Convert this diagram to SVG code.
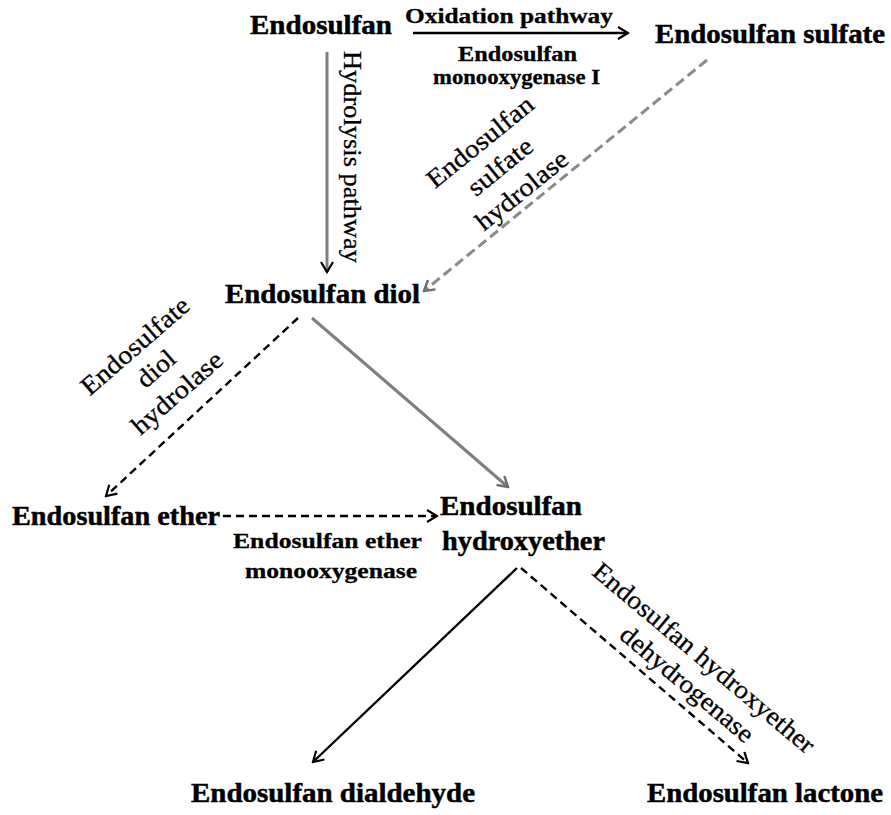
<svg xmlns="http://www.w3.org/2000/svg" width="891" height="815" viewBox="0 0 891 815">
  <style>
    .node { font-family: "Liberation Serif", "Times New Roman", serif; font-weight: bold; font-size: 28px; fill: #000; stroke: #000; stroke-width: 0.5; }
    .enz { font-family: "Liberation Serif", "Times New Roman", serif; font-weight: bold; font-size: 22px; fill: #000; stroke: #000; stroke-width: 0.3; }
    .enz-sm { font-size: 20px; }
    .rot { font-family: "Liberation Serif", "Times New Roman", serif; font-size: 26px; fill: #000; stroke: #000; stroke-width: 0.3; }
    .solid-k { fill: none; stroke: #000; stroke-width: 2.4; }
    .dash-k { fill: none; stroke: #000; stroke-width: 2.4; stroke-dasharray: 8 5; }
    .solid-g { fill: none; stroke: #7f7f7f; stroke-width: 3; }
    .dash-g { fill: none; stroke: #8a8a8a; stroke-width: 3; stroke-dasharray: 10 5; }
  </style>
  <defs>
    <marker id="ah-k" viewBox="0 0 14 14" refX="12" refY="7" markerWidth="14" markerHeight="14" markerUnits="userSpaceOnUse" orient="auto">
      <path d="M2,1 L12,7 L2,13" fill="none" stroke="#000" stroke-width="2.2"/>
    </marker>
    <marker id="ah-g" viewBox="0 0 14 14" refX="12" refY="7" markerWidth="14" markerHeight="14" markerUnits="userSpaceOnUse" orient="auto">
      <path d="M2,1 L12,7 L2,13" fill="none" stroke="#6e6e6e" stroke-width="2.4"/>
    </marker>
  </defs>
  <rect width="891" height="815" fill="#fff"/>

  <!-- pathway connectors -->
  <g id="connectors">
    <path class="solid-k" d="M413,33 L628,33" marker-end="url(#ah-k)"/>
    <path class="solid-g" d="M327,52 L327,272" marker-end="url(#ah-k)"/>
    <path class="dash-g" d="M707,60 L424,291" marker-end="url(#ah-g)"/>
    <path class="dash-k" d="M298,318 L106,496" marker-end="url(#ah-k)"/>
    <path class="solid-g" d="M312,318 L508,487" marker-end="url(#ah-g)"/>
    <path class="dash-k" d="M223,516 L437,516" marker-end="url(#ah-k)"/>
    <path class="solid-k" d="M517,568 L313,762" marker-end="url(#ah-k)"/>
    <path class="dash-k" d="M521,568 L748,763" marker-end="url(#ah-k)"/>
  </g>

  <!-- compounds -->
  <g id="endosulfan"><text class="node" x="250" y="34" textLength="142" lengthAdjust="spacingAndGlyphs">Endosulfan</text></g>
  <g id="endosulfan-sulfate"><text class="node" x="655" y="43" textLength="230" lengthAdjust="spacingAndGlyphs">Endosulfan sulfate</text></g>
  <g id="endosulfan-diol"><text class="node" x="225" y="303" textLength="195" lengthAdjust="spacingAndGlyphs">Endosulfan diol</text></g>
  <g id="endosulfan-ether"><text class="node" x="12" y="525" textLength="208" lengthAdjust="spacingAndGlyphs">Endosulfan ether</text></g>
  <g id="endosulfan-hydroxyether">
    <text class="node" x="440" y="515" textLength="142" lengthAdjust="spacingAndGlyphs">Endosulfan</text>
    <text class="node" x="442" y="550" textLength="163" lengthAdjust="spacingAndGlyphs">hydroxyether</text>
  </g>
  <g id="endosulfan-dialdehyde"><text class="node" x="191" y="802" textLength="284" lengthAdjust="spacingAndGlyphs">Endosulfan dialdehyde</text></g>
  <g id="endosulfan-lactone"><text class="node" x="647" y="802" textLength="236" lengthAdjust="spacingAndGlyphs">Endosulfan lactone</text></g>

  <!-- enzyme / pathway labels -->
  <g id="label-oxidation">
    <text class="enz" x="405" y="23" textLength="208" lengthAdjust="spacingAndGlyphs">Oxidation pathway</text>
    <text class="enz enz-sm" x="458" y="61" textLength="119" lengthAdjust="spacingAndGlyphs">Endosulfan</text>
    <text class="enz enz-sm" x="433" y="84" textLength="167" lengthAdjust="spacingAndGlyphs">monooxygenase I</text>
  </g>
  <g id="label-hydrolysis">
    <text class="rot" transform="translate(344,51) rotate(90)" textLength="212" lengthAdjust="spacingAndGlyphs">Hydrolysis pathway</text>
  </g>
  <g id="label-sulfate-hydrolase" transform="translate(481,143) rotate(-39)" text-anchor="middle">
    <text class="rot" x="0" y="7" textLength="130" lengthAdjust="spacingAndGlyphs">Endosulfan</text>
    <text class="rot" x="0" y="39" textLength="76" lengthAdjust="spacingAndGlyphs">sulfate</text>
    <text class="rot" x="2" y="71" textLength="111" lengthAdjust="spacingAndGlyphs">hydrolase</text>
  </g>
  <g id="label-diol-hydrolase" transform="translate(136,347) rotate(-41)" text-anchor="middle">
    <text class="rot" x="0" y="7" textLength="135" lengthAdjust="spacingAndGlyphs">Endosulfate</text>
    <text class="rot" x="1" y="38" textLength="43" lengthAdjust="spacingAndGlyphs">diol</text>
    <text class="rot" x="1" y="70" textLength="112" lengthAdjust="spacingAndGlyphs">hydrolase</text>
  </g>
  <g id="label-ether-monooxygenase">
    <text class="enz" x="233" y="548" textLength="189" lengthAdjust="spacingAndGlyphs">Endosulfan ether</text>
    <text class="enz" x="245" y="578" textLength="172" lengthAdjust="spacingAndGlyphs">monooxygenase</text>
  </g>
  <g id="label-dehydrogenase" transform="translate(703,659) rotate(40)" text-anchor="middle">
    <text class="rot" x="0" y="7" textLength="281" lengthAdjust="spacingAndGlyphs">Endosulfan hydroxyether</text>
    <text class="rot" x="4" y="38" textLength="166" lengthAdjust="spacingAndGlyphs">dehydrogenase</text>
  </g>
</svg>
